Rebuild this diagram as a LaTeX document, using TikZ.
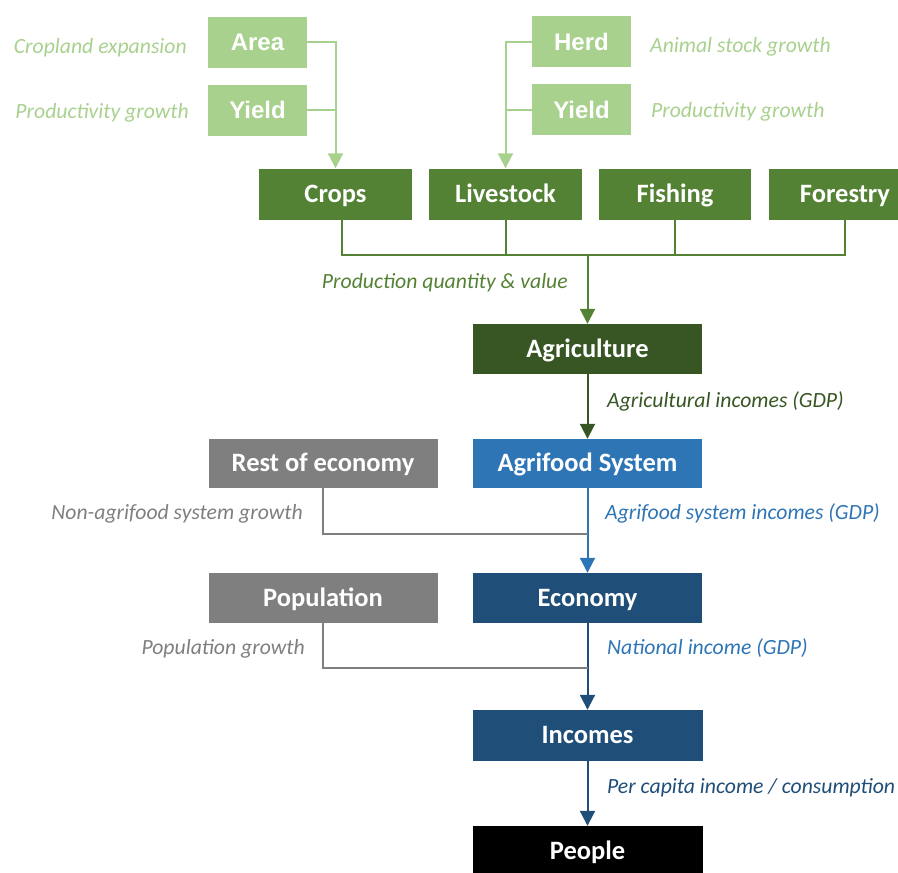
\documentclass[tikz,border=0pt]{standalone}
\usepackage{fontspec}
\setmainfont{Carlito}
\newfontfamily\arialb[BoldFont={Liberation Sans Bold}]{Liberation Sans}
\usetikzlibrary{arrows.meta,calc}
\definecolor{lgreen}{HTML}{A9D18E}
\definecolor{mgreen}{HTML}{548235}
\definecolor{dgreen}{HTML}{375623}
\definecolor{mblue}{HTML}{2E75B6}
\definecolor{nblue}{HTML}{1F4E79}
\definecolor{mgray}{HTML}{7F7F7F}
\begin{document}
\begin{tikzpicture}[x=1pt,y=-1pt,
  box/.style={rectangle,inner sep=0pt,text=white,minimum height=51pt,
    font=\fontsize{26.5}{30}\selectfont\bfseries,text height=16.8pt,text depth=0pt},
  abox/.style={rectangle,inner sep=0pt,text=white,fill=lgreen,minimum width=99pt,minimum height=51pt,
    font=\arialb\fontsize{24}{28}\selectfont\bfseries,text height=17.2pt,text depth=0pt},
  lab/.style={inner sep=0pt,font=\fontsize{21.7}{25}\selectfont\itshape},
  conn/.style={line width=2pt},
  tip/.style={conn,-{Triangle[length=15pt,width=15pt]}},
]
\useasboundingbox (0,0) rectangle (898,873);
% top inputs
\node[abox] (area) at (257.5,42) {Area};
\node[abox] (yl) at (257.5,110) {Yield};
\node[abox] (herd) at (581.5,41.5) {Herd};
\node[abox] (yr) at (581.5,109.5) {Yield};
% sectors
\node[box,fill=mgreen,minimum width=153pt] (crops) at (335.5,194) {Crops};
\node[box,fill=mgreen,minimum width=153pt] (live) at (505.5,194) {Livestock};
\node[box,fill=mgreen,minimum width=152pt] (fish) at (675,194) {Fishing};
\node[box,fill=mgreen,minimum width=153pt] (forest) at (845,194) {Forestry};
% main chain
\node[box,fill=dgreen,minimum width=229pt,minimum height=50pt] (agri) at (587.5,349) {Agriculture};
\node[box,fill=mblue,minimum width=229pt,minimum height=49pt] (agrifood) at (587.5,463.5) {Agrifood System};
\node[box,fill=mgray,minimum width=229pt,minimum height=49pt] (rest) at (323,463.5) {Rest of economy};
\node[box,fill=nblue,minimum width=229pt,minimum height=50pt] (econ) at (587.5,598) {Economy};
\node[box,fill=mgray,minimum width=229pt,minimum height=50pt] (pop) at (323,598) {Population};
\node[box,fill=nblue,minimum width=230pt,minimum height=51pt] (inc) at (587.5,735.5) {Incomes};
\node[box,fill=black,minimum width=230pt,minimum height=50pt] (people) at (587.5,851) {People};
% junction coordinates
\coordinate (bus) at (587.5,255);
\coordinate (j1) at (587.5,534);
\coordinate (j2) at (587.5,668);
% connectors: top inputs
\draw[tip,lgreen] (area.east) -| (crops.north);
\draw[conn,lgreen] (yl.east) -- (crops.north |- yl.east);
\draw[tip,lgreen] (herd.west) -| (live.north);
\draw[conn,lgreen] (yr.west) -- (live.north |- yr.west);
% sector bus
\draw[conn,mgreen] ([xshift=6pt]crops.south) |- (forest.south |- bus) -- (forest.south);
\draw[conn,mgreen] (live.south) -- (live.south |- bus);
\draw[conn,mgreen] (fish.south) -- (fish.south |- bus);
\draw[tip,mgreen] (bus) -- (agri.north);
% chain
\draw[tip,dgreen] (agri.south) -- (agrifood.north);
\draw[tip,mblue] (agrifood.south) -- (econ.north);
\draw[conn,mgray] (rest.south) |- (j1);
\draw[tip,nblue] (econ.south) -- (inc.north);
\draw[conn,mgray] (pop.south) |- (j2);
\draw[tip,nblue] (inc.south) -- (people.north);
% labels
\node[lab,text=lgreen,anchor=base east] (l1) at (187,53) {Cropland expansion};
\node[lab,text=lgreen,anchor=base east] (l2) at (189,118) {Productivity growth};
\node[lab,text=lgreen,anchor=base west] (l3) at (650,52) {Animal stock growth};
\node[lab,text=lgreen,anchor=base west] (l4) at (651,117) {Productivity growth};
\node[lab,text=mgreen,anchor=base east] (l5) at (568,288) {Production quantity \& value};
\node[lab,text=dgreen,anchor=base west] (l6) at (607,407) {Agricultural incomes (GDP)};
\node[lab,text=mgray,anchor=base east] (l7) at (303,519) {Non-agrifood system growth};
\node[lab,text=mblue,anchor=base west] (l8) at (605,519) {Agrifood system incomes (GDP)};
\node[lab,text=mgray,anchor=base east] (l9) at (305,654) {Population growth};
\node[lab,text=mblue,anchor=base west] (l10) at (607,654) {National income (GDP)};
\node[lab,text=nblue,anchor=base west] (l11) at (607,793) {Per capita income / consumption};
\end{tikzpicture}
\end{document}
